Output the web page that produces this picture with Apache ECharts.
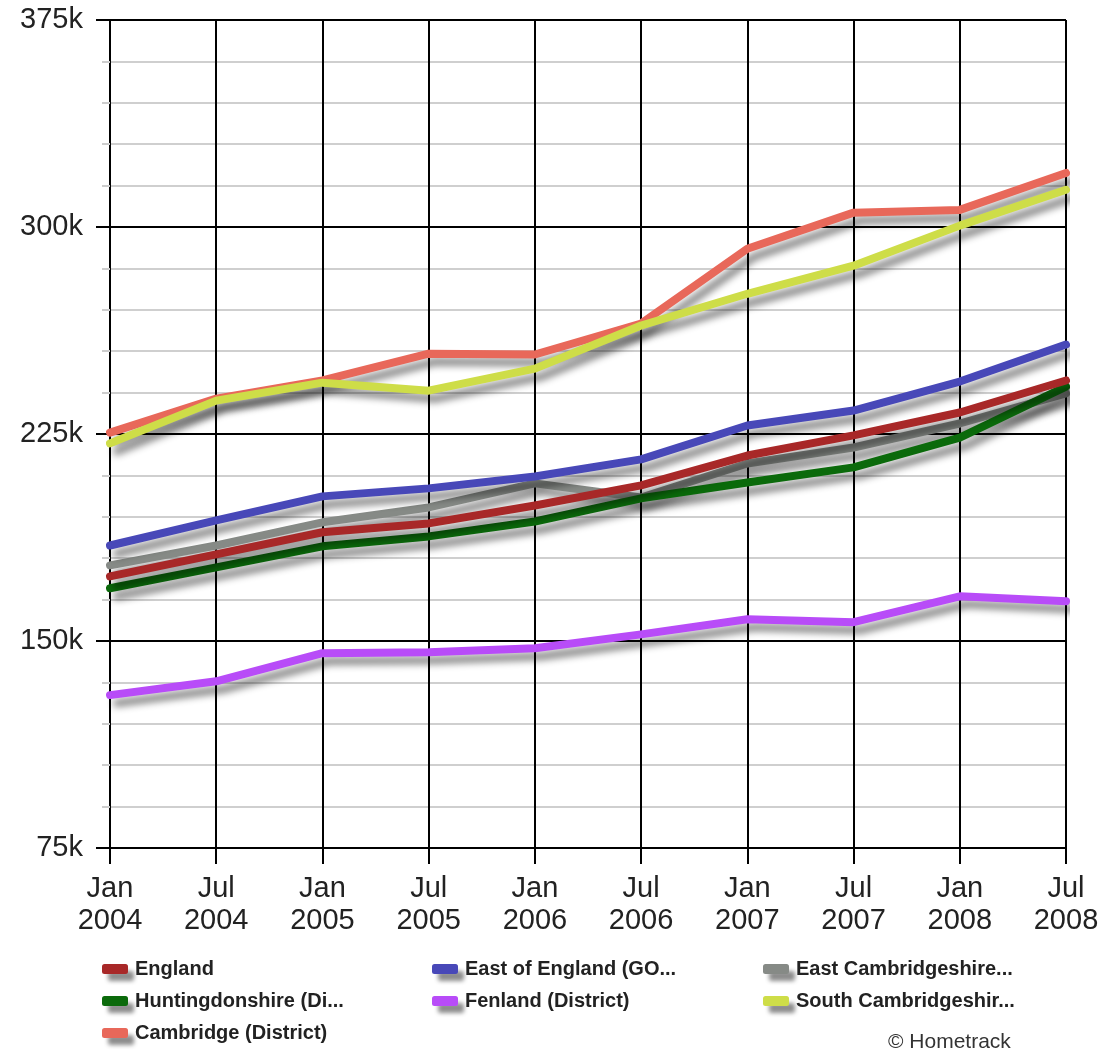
<!DOCTYPE html>
<html>
<head>
<meta charset="utf-8">
<script src="https://cdn.jsdelivr.net/npm/echarts@6/dist/echarts.min.js"></script>
<style>
  html, body { margin: 0; padding: 0; background: #fff; }
  #main { width: 1109px; height: 1051px; }
</style>
</head>
<body>
<div id="main"></div>
<script>
// periods on the x axis
var periods = ['Jan\n2004', 'Jul\n2004', 'Jan\n2005', 'Jul\n2005', 'Jan\n2006',
               'Jul\n2006', 'Jan\n2007', 'Jul\n2007', 'Jan\n2008', 'Jul\n2008'];

// average prices
var england         = [173400, 181400, 189400, 192600, 199100, 206400, 217200, 224500, 232800, 244400];
var eastOfEngland   = [184600, 193700, 202400, 205300, 209600, 215800, 228100, 233500, 244000, 257400];
var eastCambs       = [177400, 184600, 193000, 198400, 207100, 202000, 214300, 220100, 228800, 239700];
var huntingdonshire = [169100, 176700, 184300, 187900, 193300, 201700, 207400, 212900, 223700, 242200];
var fenland         = [130400, 135400, 145600, 145900, 147400, 152400, 157900, 156800, 166200, 164400];
var southCambs      = [221600, 237100, 243600, 240700, 248700, 264300, 275800, 286000, 300500, 313500];
var cambridge       = [225500, 237800, 244400, 254100, 253800, 265000, 292100, 305200, 306200, 319600];

var yTicks = [75000, 150000, 225000, 300000, 375000];

var names = {
    england: 'England',
    eoe: 'East of England (GO...',
    ecambs: 'East Cambridgeshire...',
    hunt: 'Huntingdonshire (Di...',
    fen: 'Fenland (District)',
    scambs: 'South Cambridgeshir...',
    cam: 'Cambridge (District)'
};

var FONT = 'Liberation Sans, Arial, Helvetica, sans-serif';

function makeLine(name, data, color, z) {
    return {
        name: name,
        type: 'line',
        data: data,
        z: z,
        symbol: 'none',
        lineStyle: {
            width: 8,
            color: color,
            cap: 'round',
            join: 'round',
            shadowColor: 'rgba(0,0,0,0.45)',
            shadowBlur: 7,
            shadowOffsetX: 7,
            shadowOffsetY: 8
        },
        itemStyle: { color: color }
    };
}

var legendBase = {
    orient: 'vertical',
    top: 959,
    height: 120,
    padding: 0,
    icon: 'roundRect',
    itemWidth: 26,
    itemHeight: 10,
    itemGap: 12,
    selectedMode: false,
    itemStyle: {
        shadowColor: 'rgba(0,0,0,0.45)',
        shadowBlur: 4,
        shadowOffsetX: 6,
        shadowOffsetY: 7
    },
    textStyle: {
        fontFamily: FONT,
        fontSize: 20,
        fontWeight: 'bold',
        color: '#222',
        padding: [0, 0, 0, 2]
    }
};

var chart = echarts.init(document.getElementById('main'));
chart.setOption({
    backgroundColor: '#fff',
    animation: false,
    grid: { left: 110, right: 43, top: 20, bottom: 203, containLabel: false },
    legend: [
        Object.assign({}, legendBase, { left: 102, data: [names.england, names.hunt, names.cam] }),
        Object.assign({}, legendBase, { left: 432, data: [names.eoe, names.fen] }),
        Object.assign({}, legendBase, { left: 763, data: [names.ecambs, names.scambs] })
    ],
    graphic: [{
        type: 'text',
        left: 888,
        top: 1032,
        style: {
            text: '© Hometrack',
            font: '21px ' + FONT,
            fill: '#333'
        }
    }],
    xAxis: {
        type: 'category',
        data: periods,
        boundaryGap: false,
        axisLine: { show: true, lineStyle: { color: '#000', width: 2 } },
        axisTick: { show: true, length: 16, lineStyle: { color: '#000', width: 2 } },
        axisLabel: {
            margin: 25,
            fontFamily: FONT,
            fontSize: 29,
            lineHeight: 32,
            color: '#222',
            interval: 0
        },
        splitLine: { show: true, lineStyle: { color: '#000', width: 2 } }
    },
    yAxis: {
        type: 'value',
        min: 75000,
        max: 375000,
        interval: 75000,
        axisLine: { show: true, lineStyle: { color: '#000', width: 2 } },
        axisTick: { show: true, length: 14, lineStyle: { color: '#000', width: 2 } },
        axisLabel: {
            margin: 27,
            fontFamily: FONT,
            fontSize: 29,
            color: '#222',
            formatter: function (v) {
                return yTicks.indexOf(v) >= 0 ? (v / 1000) + 'k' : '';
            }
        },
        splitLine: { show: true, lineStyle: { color: '#000', width: 2 } },
        minorTick: { show: true, splitNumber: 5, length: 8, lineStyle: { color: '#ccc', width: 2 } },
        minorSplitLine: { show: true, lineStyle: { color: '#cfcfcf', width: 2 } }
    },
    series: [
        makeLine(names.england, england, '#a82828', 5),
        makeLine(names.eoe, eastOfEngland, '#4848b8', 6),
        makeLine(names.ecambs, eastCambs, '#868a86', 3),
        makeLine(names.hunt, huntingdonshire, '#0b6a0b', 4),
        makeLine(names.fen, fenland, '#b84cf8', 5),
        makeLine(names.scambs, southCambs, '#cedd48', 6),
        makeLine(names.cam, cambridge, '#e8685a', 5)
    ]
});
</script>
</body>
</html>
